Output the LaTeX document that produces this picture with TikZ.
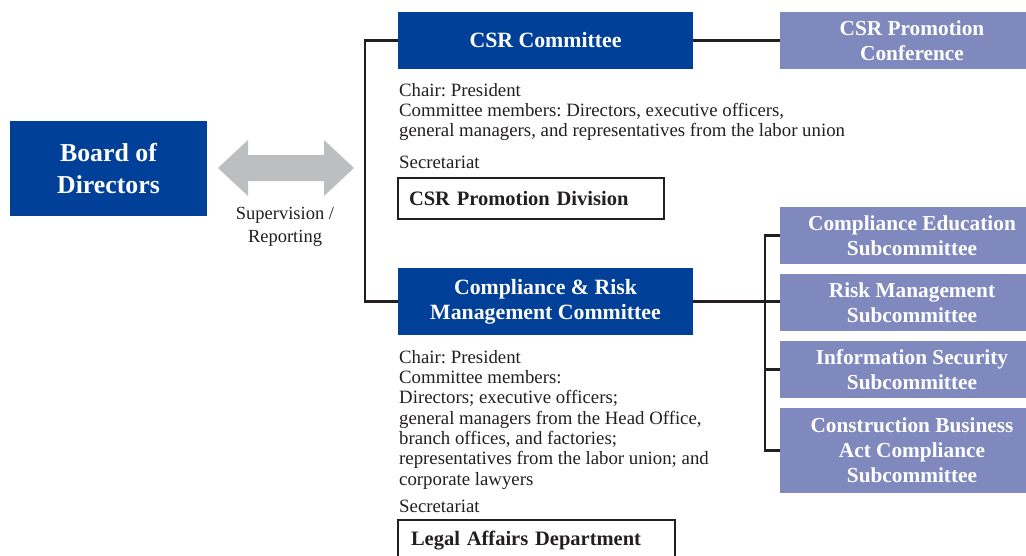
\documentclass[tikz,border=0pt]{standalone}
\usepackage{fontspec}
\setmainfont{Liberation Serif}
\definecolor{dblue}{RGB}{0,64,152}
\definecolor{lblue}{RGB}{127,137,190}
\definecolor{agray}{RGB}{188,190,192}
\definecolor{ink}{RGB}{35,31,32}
\begin{document}
\frenchspacing
\begin{tikzpicture}[x=1pt,y=-1pt,
  darkbox/.style={fill=dblue, text=white, font=\bfseries\fontsize{21.8}{25}\selectfont, align=center, inner sep=0pt},
  lightbox/.style={fill=lblue, text=white, font=\bfseries\fontsize{21.3}{25}\selectfont, align=center, inner sep=0pt, minimum width=264pt},
  whitebox/.style={draw=ink, line width=1.2pt, text=ink, font=\bfseries\fontsize{20.5}{22}\selectfont, align=left, inner ysep=0pt},
  conn/.style={draw=ink, line width=2.6pt},
  body/.style={text=ink, font=\fontsize{18.8}{20.3}\selectfont, align=left, anchor=north west, inner sep=0pt},
  lab/.style={text=ink, font=\fontsize{18.5}{23}\selectfont, align=center, inner sep=0pt}]
\useasboundingbox (0,0) rectangle (1026,555);
\fill[white] (0,0) rectangle (1026,555);

% Board
\node[darkbox, font=\bfseries\fontsize{25.8}{32}\selectfont, minimum width=197pt, minimum height=95pt] (board) at (108.5,168.5) {Board of\\Directors};

% double arrow
\fill[agray] (218,168) -- (248,140) -- (248,155) -- (324,155) -- (324,140) -- (354,168)
  -- (324,196) -- (324,181) -- (248,181) -- (248,196) -- cycle;
\node[lab] (sup) at (285,227) {Supervision /\\Reporting};

% CSR committee
\node[darkbox, minimum width=295pt, minimum height=57pt] (csr) at (545.5,40.5) {CSR Committee};
\node[lightbox, minimum height=57pt] (conf) at (912,40.5) {CSR Promotion\\Conference};

\node[body] (csrtxt) at (399,83) {Chair: President\\Committee members: Directors, executive officers,\\general managers, and representatives from the labor union};
\node[body] (sec1) at (399,156) {Secretariat};
\node[whitebox, text width=244pt, inner xsep=11pt, minimum height=41pt] (div) at (531,198.5) {CSR Promotion Division};

% Compliance & Risk
\node[darkbox, minimum width=295pt, minimum height=67pt] (crm) at (545.5,301.5) {Compliance \& Risk\\Management Committee};
\node[body] (crmtxt) at (399,350) {Chair: President\\Committee members:\\Directors; executive officers;\\general managers from the Head Office,\\branch offices, and factories;\\representatives from the labor union; and\\corporate lawyers};
\node[body] (sec2) at (399,500) {Secretariat};
\node[whitebox, text width=251pt, inner xsep=13pt, minimum height=42pt] (legal) at (536.5,541) {Legal Affairs Department};

% subcommittees
\node[lightbox, minimum height=57pt] (sub1) at (912,235.5) {Compliance Education\\Subcommittee};
\node[lightbox, minimum height=57pt] (sub2) at (912,302.5) {Risk Management\\Subcommittee};
\node[lightbox, minimum height=57pt] (sub3) at (912,369.5) {Information Security\\Subcommittee};
\node[lightbox, minimum height=85pt] (sub4) at (912,450.5) {Construction Business\\Act Compliance\\Subcommittee};

% connectors
\coordinate (j1) at (365,40.5);
\coordinate (j2) at (365,301.5);
\coordinate (bx) at (765,0);
\draw[conn] (csr.east) -- (conf.west);
\draw[conn] (csr.west) -- (j1) -- (j2) -- (crm.west);
\draw[conn] (crm.east) -- (crm.east -| sub2.west);
\draw[conn] (sub1.west) -- (sub1.west -| bx) -- (sub4.west -| bx) -- (sub4.west);
\draw[conn] (sub3.west) -- (sub3.west -| bx);
\end{tikzpicture}
\end{document}
